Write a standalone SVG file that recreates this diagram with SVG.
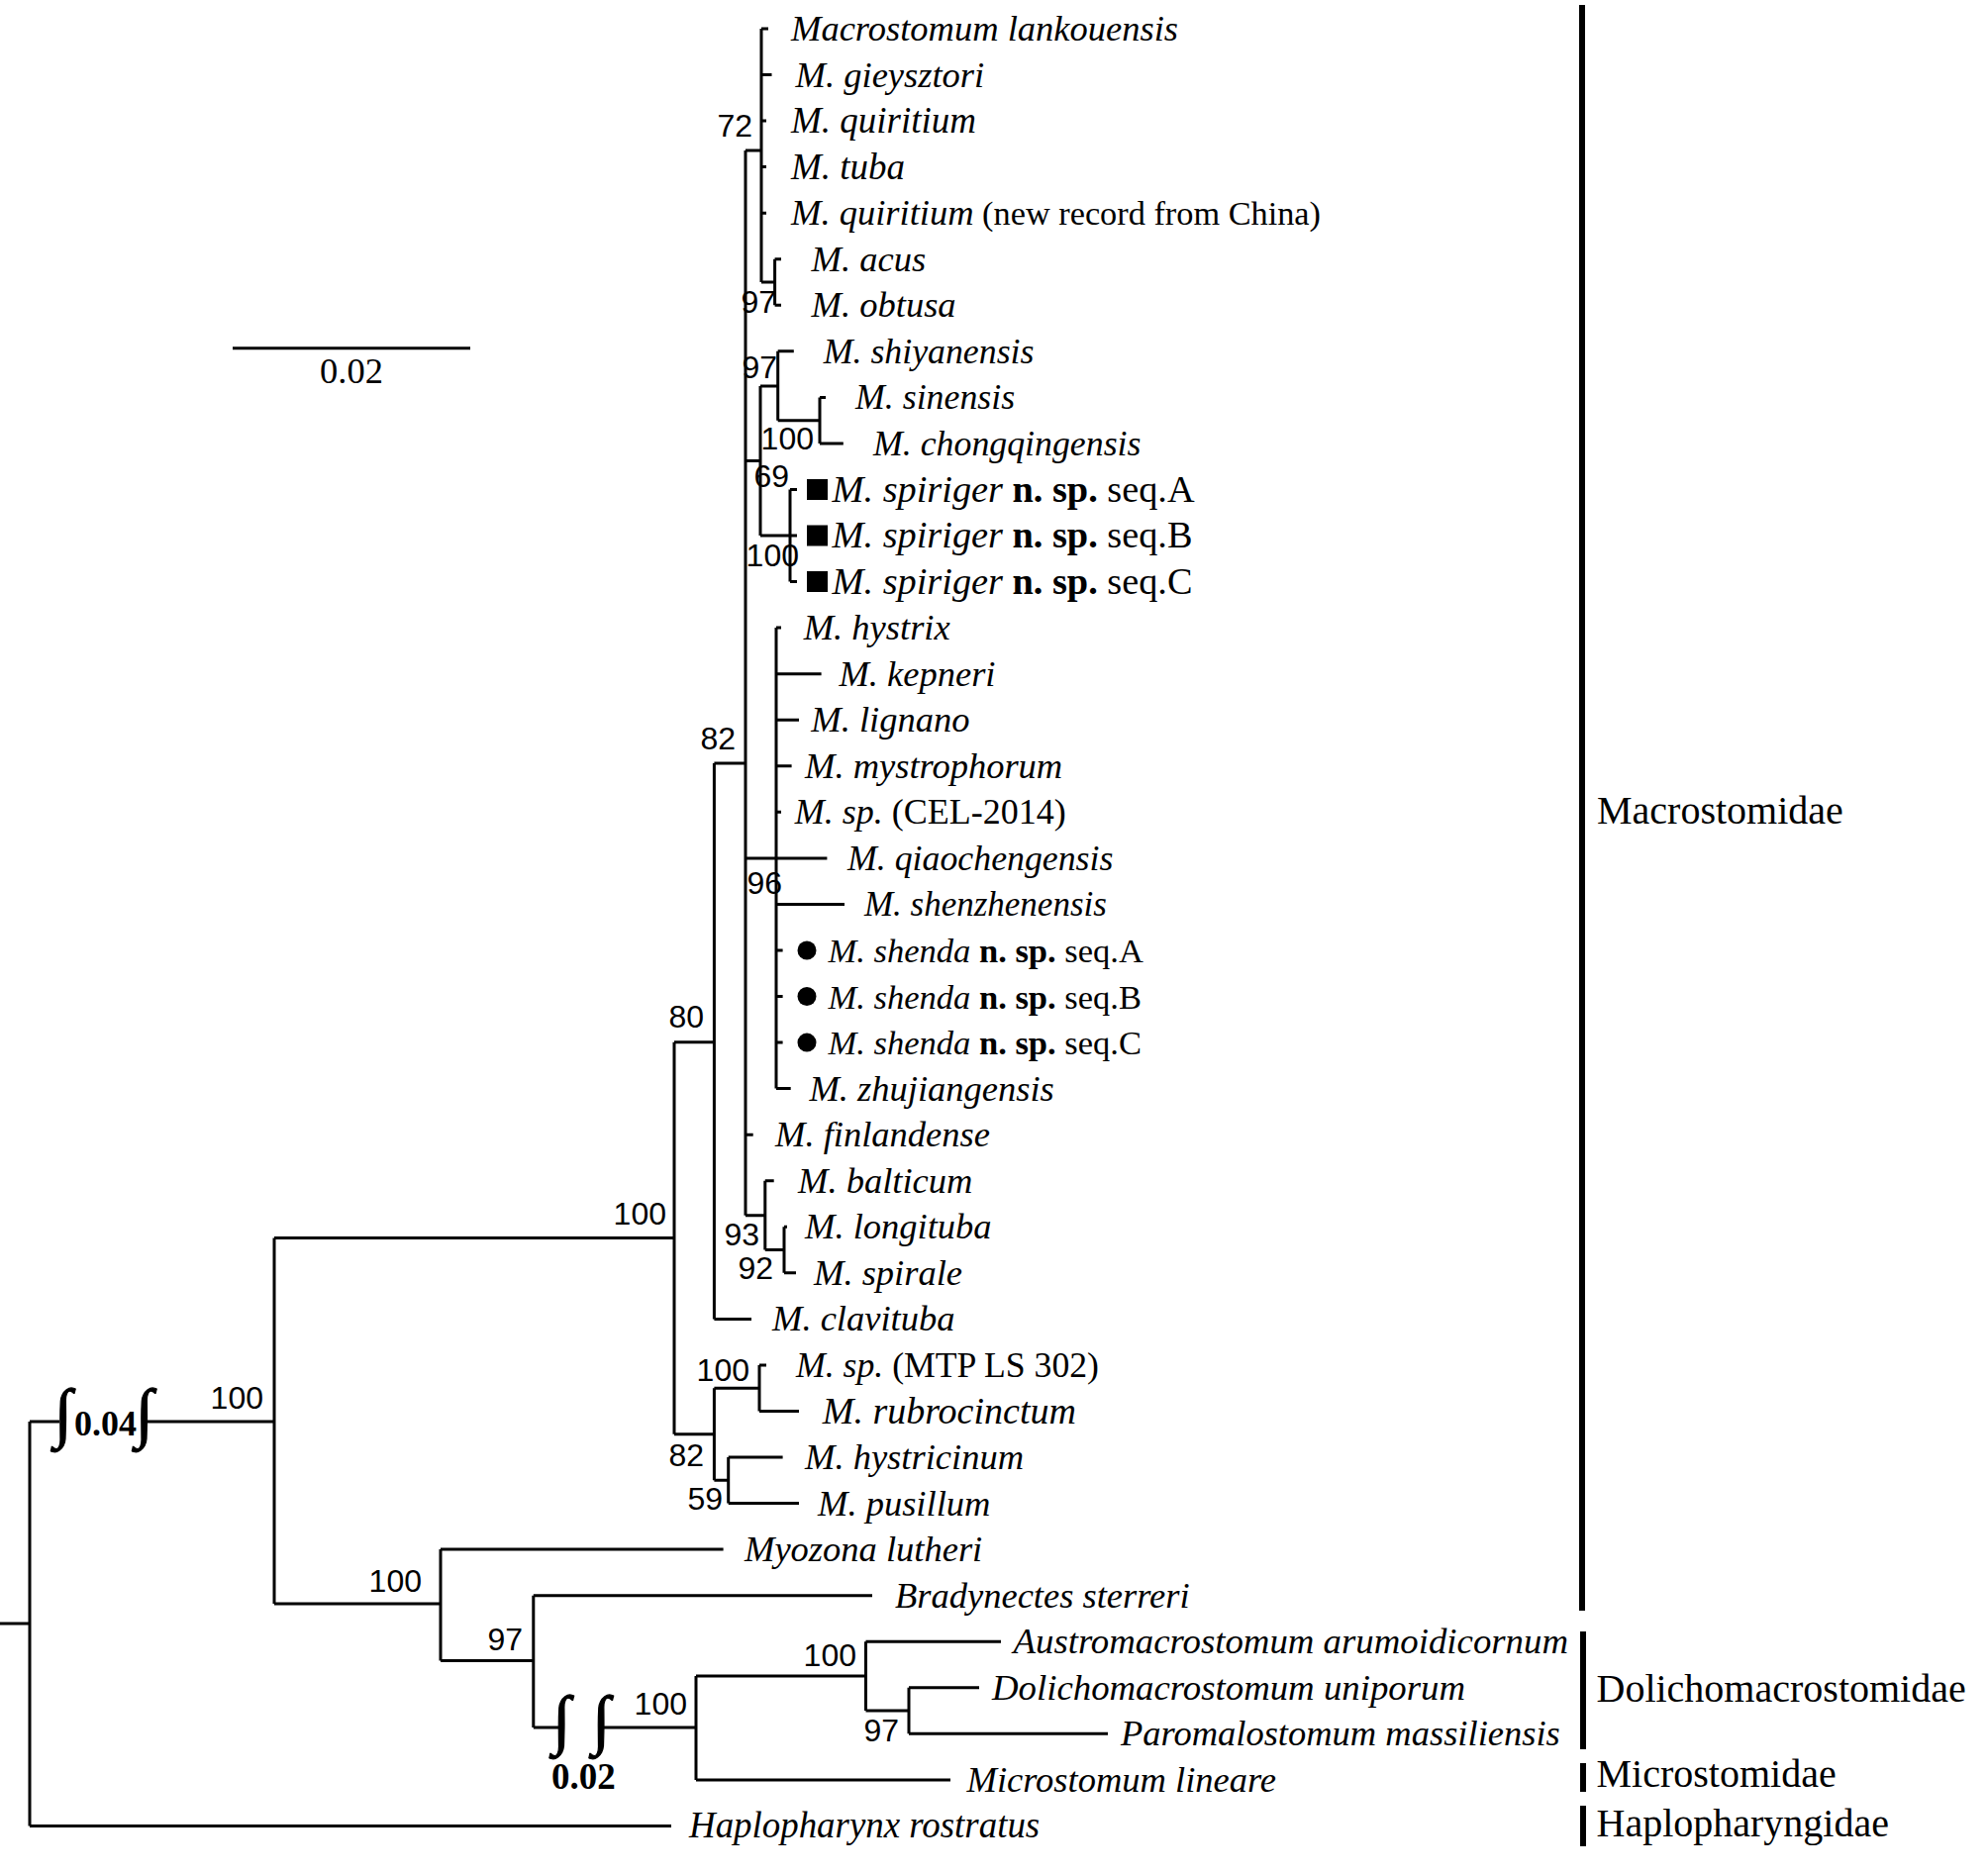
<svg xmlns="http://www.w3.org/2000/svg" width="2008" height="1893" viewBox="0 0 2008 1893">
<style>
.t{font-family:"Liberation Serif","Times New Roman",serif;font-size:36.5px;font-style:italic;fill:#000}
.n{font-style:normal}
.b{font-style:normal;font-weight:bold}
.bs{font-family:"Liberation Sans",Arial,sans-serif;font-size:32px;text-anchor:end;fill:#000}
.fam{font-family:"Liberation Serif","Times New Roman",serif;font-size:40px;fill:#000}
.br{fill:none;stroke:#000;stroke-width:3}
.bar{fill:none;stroke:#000;stroke-width:6}
.int{font-family:"Liberation Serif","Times New Roman",serif;font-weight:bold;font-size:66px;fill:#000;stroke:#000;stroke-width:1.2}
.brk{font-family:"Liberation Serif","Times New Roman",serif;font-weight:bold;fill:#000}
</style>
<rect width="2008" height="1893" fill="#fff"/>
<g id="connectors" class="br">
<path d="M0 1640H30M30 1436V1844.5M30 1844.5H678M30 1436H60M147 1436H277"/>
<path d="M277 1250.5V1620M277 1250.5H681M277 1620H445"/>
<path d="M681 1052.7V1448.8M681 1052.7H721.4M681 1448.8H721.4"/>
<path d="M721.4 771V1332.4M721.4 771H753M721.4 1332.4H759"/>
<path d="M753 152V1227.7M753 152H769M753 465.5H768M753 866.9H835.4M753 1146.2H760.7M753 1227.7H772.8"/>
<path d="M769 29V285M769 29H776M769 75.5H779.5M769 122.1H774M769 168.6H774M769 215.2H774M769 285H782.6M782.6 261.7V308.3M782.6 261.7H789M782.6 308.3H789"/>
<path d="M768 390V541M768 390H785.7M785.7 354.8V424.7M785.7 354.8H801.8M785.7 424.7H828M828 401.4V448M828 401.4H834M828 448H851.8"/>
<path d="M768 541H798M798 494.5V587.6M798 494.5H805M798 541H805M798 587.6H805"/>
<path d="M784 634.1V1099.6M784 634.1H789M784 680.7H829.6M784 727.2H807M784 773.8H799.6M784 820.3H789M784 913.4H853M784 960H790.6M784 1006.5H790.6M784 1053.1H790.6M784 1099.6H798.7"/>
<path d="M772.8 1192.7V1262.6M772.8 1192.7H781.7M772.8 1262.6H792M792 1239.3V1285.8M792 1239.3H795M792 1285.8H804"/>
<path d="M721.4 1402.2V1495.3M721.4 1402.2H767M721.4 1495.3H735.7M767 1379V1425.5M767 1379H774M767 1425.5H807M735.7 1472V1518.6M735.7 1472H790.6M735.7 1518.6H807"/>
<path d="M445 1565.1V1677.5M445 1565.1H730.6M445 1677.5H538.8"/>
<path d="M538.8 1611.7V1745M538.8 1611.7H881M538.8 1745H565M608 1745H703"/>
<path d="M703 1693V1797.9M703 1693H874.5M703 1797.9H960"/>
<path d="M874.5 1658.2V1728M874.5 1658.2H1011M874.5 1728H918M918 1704.8V1751.3M918 1704.8H989M918 1751.3H1119"/>
</g>
<g id="scale">
<path class="br" d="M235 351.7H475"/>
<text class="t n" x="355" y="387" text-anchor="middle" font-size="36">0.02</text>
</g>
<g id="break1">
<text class="int" x="55" y="1449">∫</text>
<text class="brk" x="75" y="1450" font-size="36">0.04</text>
<text class="int" x="137" y="1449">∫</text>
</g>
<g id="break2">
<text class="int" x="558.5" y="1758.5">∫</text>
<text class="int" x="598.5" y="1758.5">∫</text>
<text class="brk" x="557" y="1806.7" font-size="37">0.02</text>
</g>
<g id="support" class="bs">
<text x="760" y="138">72</text>
<text x="784" y="316">97</text>
<text x="785" y="382">97</text>
<text x="822" y="454">100</text>
<text x="797" y="492">69</text>
<text x="807" y="572">100</text>
<text x="743" y="757">82</text>
<text x="790" y="903">96</text>
<text x="711" y="1038">80</text>
<text x="673" y="1237">100</text>
<text x="767" y="1258">93</text>
<text x="781" y="1292">92</text>
<text x="757" y="1395">100</text>
<text x="711" y="1481">82</text>
<text x="730" y="1525">59</text>
<text x="266" y="1423">100</text>
<text x="426" y="1608">100</text>
<text x="528" y="1667">97</text>
<text x="694" y="1732">100</text>
<text x="865" y="1683">100</text>
<text x="908" y="1759">97</text>
</g>
<g id="taxa" class="t">
<g id="t01"><text x="799" y="41">Macrostomum lankouensis</text></g>
<g id="t02"><text x="803.6" y="87.5">M. gieysztori</text></g>
<g id="t03"><text x="799" y="134" font-size="37">M. quiritium</text></g>
<g id="t04"><text x="799" y="180.6" font-size="37">M. tuba</text></g>
<g id="t05"><text x="799" y="227.2">M. quiritium<tspan class="n" font-size="34.3"> (new record from China)</tspan></text></g>
<g id="t06"><text x="819.6" y="273.7">M. acus</text></g>
<g id="t07"><text x="819.6" y="320.3">M. obtusa</text></g>
<g id="t08"><text x="831.7" y="366.8" font-size="35.8">M. shiyanensis</text></g>
<g id="t09"><text x="864" y="413.4" font-size="35.8">M. sinensis</text></g>
<g id="t10"><text x="882" y="460" font-size="35.8">M. chongqingensis</text></g>
<g id="t11"><rect x="815" y="484" width="21" height="21"/><text x="840.6" y="506.5" font-size="38.3">M. spiriger<tspan class="b"> n. sp.</tspan><tspan class="n"> seq.A</tspan></text></g>
<g id="t12"><rect x="815" y="530.5" width="21" height="21"/><text x="840.6" y="553" font-size="38.3">M. spiriger<tspan class="b"> n. sp.</tspan><tspan class="n"> seq.B</tspan></text></g>
<g id="t13"><rect x="815" y="577" width="21" height="21"/><text x="840.6" y="599.6" font-size="38.3">M. spiriger<tspan class="b"> n. sp.</tspan><tspan class="n"> seq.C</tspan></text></g>
<g id="t14"><text x="811.7" y="646.1">M. hystrix</text></g>
<g id="t15"><text x="847.4" y="692.7">M. kepneri</text></g>
<g id="t16"><text x="819.3" y="739.2">M. lignano</text></g>
<g id="t17"><text x="813" y="785.8">M. mystrophorum</text></g>
<g id="t18"><text x="802.8" y="832.3" font-size="36">M. sp.<tspan class="n"> (CEL-2014)</tspan></text></g>
<g id="t19"><text x="856" y="878.9" font-size="35.8">M. qiaochengensis</text></g>
<g id="t20"><text x="872.9" y="925.4" font-size="35">M. shenzhenensis</text></g>
<g id="t21"><circle cx="815" cy="960" r="9.5"/><text x="836.6" y="972" font-size="34.5">M. shenda<tspan class="b"> n. sp.</tspan><tspan class="n"> seq.A</tspan></text></g>
<g id="t22"><circle cx="815" cy="1006.5" r="9.5"/><text x="836.6" y="1018.5" font-size="34.5">M. shenda<tspan class="b"> n. sp.</tspan><tspan class="n"> seq.B</tspan></text></g>
<g id="t23"><circle cx="815" cy="1053.1" r="9.5"/><text x="836.6" y="1065.1" font-size="34.5">M. shenda<tspan class="b"> n. sp.</tspan><tspan class="n"> seq.C</tspan></text></g>
<g id="t24"><text x="817.4" y="1111.6">M. zhujiangensis</text></g>
<g id="t25"><text x="783" y="1158.2">M. finlandense</text></g>
<g id="t26"><text x="806" y="1204.7">M. balticum</text></g>
<g id="t27"><text x="813" y="1251.3">M. longituba</text></g>
<g id="t28"><text x="822" y="1297.8">M. spirale</text></g>
<g id="t29"><text x="780" y="1344.4">M. clavituba</text></g>
<g id="t30"><text x="804" y="1391" font-size="35.7">M. sp.<tspan class="n"> (MTP LS 302)</tspan></text></g>
<g id="t31"><text x="830.8" y="1437.5" font-size="38">M. rubrocinctum</text></g>
<g id="t32"><text x="813" y="1484">M. hystricinum</text></g>
<g id="t33"><text x="826" y="1530.6">M. pusillum</text></g>
<g id="t34"><text x="752" y="1577.1">Myozona lutheri</text></g>
<g id="t35"><text x="904" y="1623.7">Bradynectes sterreri</text></g>
<g id="t36"><text x="1023.5" y="1670.2" font-size="36.8">Austromacrostomum arumoidicornum</text></g>
<g id="t37"><text x="1002" y="1716.8" font-size="36.8">Dolichomacrostomum uniporum</text></g>
<g id="t38"><text x="1132" y="1763.3">Paromalostomum massiliensis</text></g>
<g id="t39"><text x="976.5" y="1809.9">Microstomum lineare</text></g>
<g id="t40"><text x="696" y="1856.4" font-size="36.9">Haplopharynx rostratus</text></g>
</g>
<g id="families">
<g id="f1"><path class="bar" d="M1598 5V1627"/><text class="fam" x="1613" y="832">Macrostomidae</text></g>
<g id="f2"><path class="bar" d="M1599 1648V1767"/><text class="fam" x="1612.5" y="1719">Dolichomacrostomidae</text></g>
<g id="f3"><path class="bar" d="M1599 1781V1810"/><text class="fam" x="1612.5" y="1805">Microstomidae</text></g>
<g id="f4"><path class="bar" d="M1599 1824V1865"/><text class="fam" x="1612.5" y="1855">Haplopharyngidae</text></g>
</g>
</svg>
